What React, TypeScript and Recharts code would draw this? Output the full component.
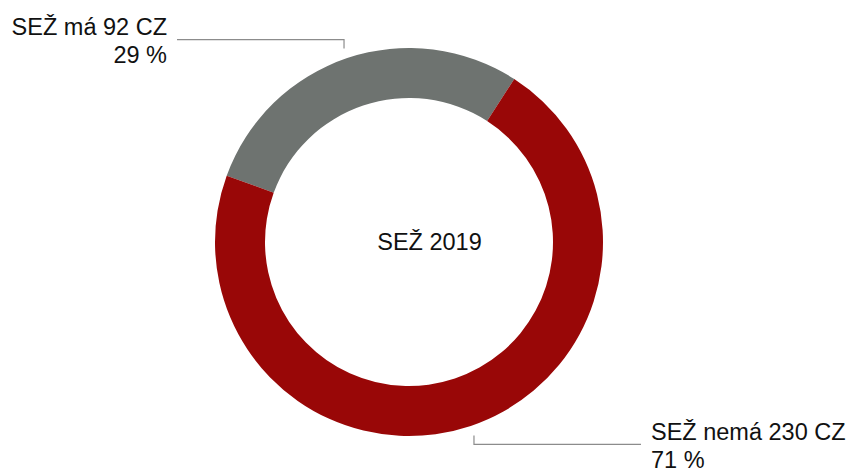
import { Cell, Label, Pie, PieChart } from "recharts";

// SEŽ 2019 – share of CZ with/without SEŽ
const categories = ["SEŽ má", "SEŽ nemá"];
const counts = [92, 230];
const fills = ["#6E7370", "#990707"];
const centerTitle = "SEŽ 2019";

const data = categories.map((name, i) => ({ name, value: counts[i], fill: fills[i] }));

const FONT = "'Liberation Sans', Arial, Helvetica, sans-serif";
const RADIAN = Math.PI / 180;
const LEADER = "#8C8C8C";

// Leader: short stub away from the ring, then a long horizontal run to the text.
function SliceLabel(props: any) {
  const { cx, cy, midAngle, outerRadius, name, value, percent } = props;
  const r = outerRadius + 10;
  const sx = cx + r * Math.cos(-midAngle * RADIAN);
  const sy = cy + r * Math.sin(-midAngle * RADIAN);
  const vDir = sy < cy ? -1 : 1;
  const hDir = sx < cx ? -1 : 1;
  const my = sy + vDir * 9;
  const ex = sx + hDir * 167;
  const tx = ex + hDir * 10;
  const anchor = hDir < 0 ? "end" : "start";
  return (
    <g>
      <polyline
        points={`${sx},${sy} ${sx},${my} ${ex},${my}`}
        fill="none"
        stroke={LEADER}
        strokeWidth={1.2}
      />
      <text x={tx} y={my - 4.5} textAnchor={anchor} fill="#111" fontSize={23.5} fontFamily={FONT}>
        {`${name} ${value} CZ`}
      </text>
      <text x={tx} y={my + 23.2} textAnchor={anchor} fill="#111" fontSize={23.5} fontFamily={FONT}>
        {`${Math.round(percent * 100)} %`}
      </text>
    </g>
  );
}

export default function App() {
  return (
    <div style={{ position: "absolute", left: 0, top: 0, width: 859, height: 469, background: "#fff" }}>
      <PieChart width={859} height={469} margin={{ top: 0, right: 0, bottom: 0, left: 0 }}>
        <Pie
          data={data}
          dataKey="value"
          nameKey="name"
          cx={409}
          cy={242}
          innerRadius={144}
          outerRadius={194}
          startAngle={160}
          endAngle={-200}
          stroke="none"
          label={SliceLabel}
          labelLine={false}
          isAnimationActive={false}
        >
          {data.map((d) => (
            <Cell key={d.name} fill={d.fill} />
          ))}
          <Label
            value={centerTitle}
            position="center"
            dy={7}
            fill="#111"
            fontSize={23.5}
            fontFamily={FONT}
          />
        </Pie>
      </PieChart>
    </div>
  );
}
